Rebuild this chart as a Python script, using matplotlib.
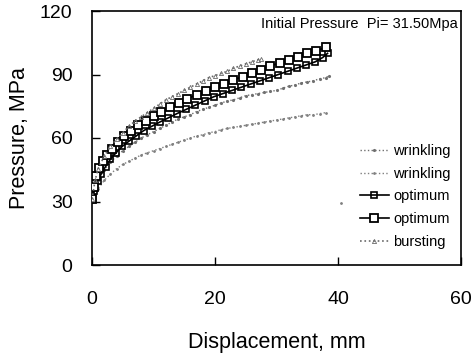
import numpy as np
import matplotlib
matplotlib.use("Agg")
import matplotlib.pyplot as plt

plt.rcParams['font.family'] = ['Liberation Sans', 'DejaVu Sans']

# ---- data ----
wr1_x = [0, 0.5, 1, 2, 3, 4, 5, 6, 7, 8, 9, 10, 11, 12, 13, 14, 15, 16, 17, 18, 19, 20,
         21, 22, 23, 24, 25, 26, 27, 28, 29, 30, 31, 32, 33, 34, 35, 36, 37, 38, 38.6]
wr1_y = [30, 36, 40, 45, 48.5, 51.5, 54, 56, 58, 60, 61.5, 63, 64.5, 66, 67.5, 69, 70, 71, 72.5,
         73.5, 74.5, 75.5, 76.5, 77.5, 78, 79, 80, 80.5, 81, 81.5, 82, 82.5, 83.5, 84.5, 85, 86,
         86.5, 87, 88, 88.5, 89.5]

wr2_x = [0, 0.5, 1, 2, 3, 4, 5, 6, 7, 8, 9, 10, 11, 12, 13, 14, 15, 16, 17, 18, 19, 20,
         21, 22, 23, 24, 25, 26, 27, 28, 29, 30, 31, 32, 33, 34, 35, 36, 37, 38, np.nan, 40.5]
wr2_y = [30, 33, 36, 40, 43, 45.5, 47.5, 49, 50.5, 52, 53, 54, 55, 56, 57, 58, 59, 60, 61,
         61.5, 62.5, 63, 64, 64.5, 65, 65.5, 66, 66.5, 67, 67.5, 68, 68.5, 69, 69.5, 70, 70.5,
         71, 71, 71.5, 72, np.nan, 29.5]

opt1_x = [0, 0.4, 0.9, 1.5, 2.2, 3.0, 3.9, 4.9, 6.0, 7.2, 8.4, 9.7, 11.0, 12.4, 13.8, 15.3,
          16.8, 18.3, 19.8, 21.3, 22.8, 24.3, 25.8, 27.3, 28.8, 30.3, 31.8, 33.3, 34.8, 36.3,
          37.5, 38.3]
opt1_y = [31, 35, 39.5, 43, 46.5, 50, 53, 56, 58.5, 61, 63.5, 65.5, 67.5, 69.5, 71.5, 73.5,
          75.5, 77.5, 79.5, 81, 82.5, 84, 85.5, 87, 88.5, 90, 91.5, 93, 94.5, 96, 98, 100]

opt2_x = [0, 0.3, 0.7, 1.2, 1.8, 2.5, 3.3, 4.2, 5.2, 6.3, 7.5, 8.7, 10.0, 11.3, 12.7, 14.1,
          15.5, 17.0, 18.5, 20.0, 21.5, 23.0, 24.5, 26.0, 27.5, 29.0, 30.5, 32.0, 33.5, 35.0,
          36.5, 38.0]
opt2_y = [31, 37, 42, 46, 49, 52, 55, 58, 61, 63.5, 66, 68, 70.5, 72.5, 74.5, 76.5, 78.5,
          80.5, 82, 84, 85.5, 87.5, 89, 90.5, 92, 94, 95.5, 97, 98.5, 100, 101, 103]

bu_x = [0, 0.5, 1, 2, 3, 4, 5, 6, 7, 8, 9, 10, 11, 12, 13, 14, 15, 16, 17, 18, 19, 20,
        21, 22, 23, 24, 25, 26, 27, 27.5]
bu_y = [31, 40, 45.5, 51.5, 56, 59.5, 62.5, 65.5, 68, 70, 72, 74, 76, 78, 79.5, 81, 82.5,
        84, 85.5, 87, 88.5, 89.5, 90.5, 91.5, 93, 94, 95, 96, 97, 97.5]

labels = ['wrinkling', 'wrinkling', 'optimum', 'optimum', 'bursting']
annotation = 'Initial Pressure  Pi= 31.50Mpa'
xticks = [0, 20, 40, 60]
yticks = [0, 30, 60, 90, 120]

fig = plt.figure(figsize=(4.77, 3.56), dpi=100)
ax = fig.add_axes([92/477, 1-265/356, 369/477, 254/356])

ax.plot(wr1_x, wr1_y, color='#707070', ls=':', lw=1.0, marker='.', ms=2.5,
        label=labels[0])
ax.plot(wr2_x, wr2_y, color='#808080', ls=':', lw=1.0, marker='.', ms=2,
        label=labels[1])
ax.plot(opt1_x, opt1_y, color='black', ls='-', lw=1.2, marker='s', ms=4.5,
        mfc='none', mew=1.2, label=labels[2], zorder=3)
ax.plot(opt2_x, opt2_y, color='black', ls='-', lw=1.2, marker='s', ms=6,
        mfc='white', mew=1.3, label=labels[3], zorder=4)
ax.plot(bu_x, bu_y, color='#6a6a6a', ls=':', lw=1.2, marker='^', ms=3,
        mfc='none', mew=0.6, label=labels[4], zorder=5)

ax.set_xlim(0, 60)
ax.set_ylim(0, 120)
ax.set_xticks(xticks)
ax.set_yticks(yticks)
ax.tick_params(direction='in', length=6, width=1, labelsize=14, top=False, right=False)
ax.tick_params(axis='x', pad=19)
ax.tick_params(axis='y', pad=14)
for s in ax.spines.values():
    s.set_linewidth(1.2)

ax.set_xlabel('Displacement, mm', fontsize=15.5, labelpad=17)
ax.set_ylabel('Pressure, MPa', fontsize=15.5, labelpad=7)

ax.text(0.99, 0.975, annotation, transform=ax.transAxes, ha='right', va='top',
        fontsize=10.5)

h, l = ax.get_legend_handles_labels()
order = [0, 1, 2, 3, 4]
ax.legend([h[i] for i in order], [l[i] for i in order], loc='center left',
          bbox_to_anchor=(0.725, 0.27), frameon=False, fontsize=10.5,
          borderaxespad=0, borderpad=0, labelspacing=0.6, handlelength=2.0,
          handletextpad=0.3)

fig.savefig('out.png', dpi=100)
